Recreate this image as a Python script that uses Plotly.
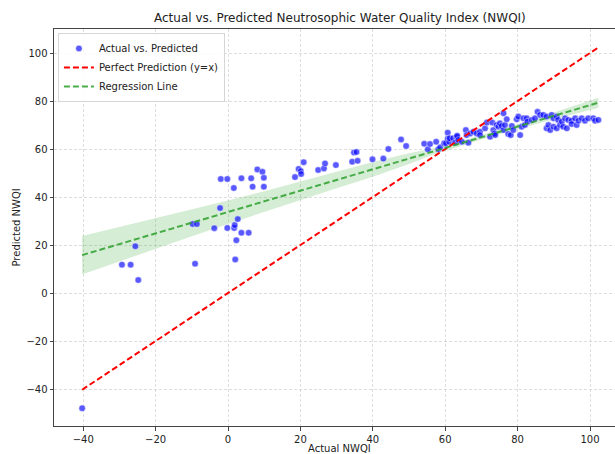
import plotly.graph_objects as go

# ---- data ----
actual = [
    -40.3, -29.3, -26.9, -25.6, -24.8, -9.75, -8.6, -9.1, -3.8, -2.2,
    -2.0, -0.2, -0.2, 1.6, 1.7, 1.85, 2.7, 2.3, 2.0, 3.7,
    3.7, 5.7, 6.4, 6.8, 8.1, 9.5, 9.9, 9.9, 18.5, 19.5,
    20.1, 20.2, 20.9, 24.9, 26.5, 26.8, 29.8, 34.3, 34.8, 35.5,
    35.8, 39.9, 42.9, 44.3, 47.8, 49.2, 54.2, 55.2, 55.8, 57.5,
    58.1, 58.6, 59.7, 60.2, 60.7, 60.7, 61.1, 61.2, 62.2, 62.7,
    63.2, 63.3, 63.6, 64.6, 65.7, 65.9, 66.4, 66.9, 67.8, 68.7,
    69.6, 69.6, 71.0, 71.5, 72.4, 73.0, 73.3, 73.6, 73.8, 74.2,
    74.7, 75.1, 75.6, 76.1, 76.1, 76.5, 77.0, 77.4, 78.1, 78.4,
    78.8, 79.75, 80.2, 80.7, 81.1, 81.6, 82.0, 82.5, 82.7, 83.9,
    84.8, 85.5, 86.2, 87.1, 88.0, 88.0, 88.5, 89.0, 89.4, 89.9,
    89.9, 90.8, 90.8, 91.2, 91.7, 92.2, 92.6, 93.1, 93.6, 94.0,
    94.9, 94.9, 95.9, 96.3, 96.8, 97.7, 98.6, 99.5, 100.9, 101.4,
    102.3,
]
predicted = [
    -48.0, 11.8, 11.8, 19.5, 5.4, 28.75, 28.75, 12.2, 27.0, 35.4,
    47.5, 47.5, 27.1, 43.75, 27.1, 28.3, 30.8, 22.0, 14.0, 47.8,
    25.1, 25.1, 47.8, 44.3, 51.5, 50.5, 48.0, 44.3, 48.3, 51.7,
    50.8, 49.6, 54.5, 51.25, 51.9, 54.0, 53.3, 54.7, 58.5, 58.75,
    55.1, 55.7, 56.0, 60.0, 64.0, 61.25, 62.2, 59.9, 62.1, 63.0,
    59.9, 60.7, 62.4, 62.4, 66.8, 64.3, 63.0, 64.5, 64.5, 62.6,
    65.1, 65.5, 63.75, 63.0, 67.9, 65.8, 62.6, 66.5, 67.2, 66.5,
    67.2, 65.8, 68.6, 71.0, 65.1, 71.0, 67.9, 66.5, 65.8, 70.0,
    69.3, 70.7, 69.6, 67.9, 74.9, 70.0, 72.4, 66.25, 65.8, 69.6,
    67.9, 72.4, 73.5, 65.8, 69.3, 72.8, 70.0, 72.8, 71.4, 72.1,
    72.8, 75.5, 74.2, 74.2, 73.5, 68.6, 70.0, 67.9, 74.2, 72.8,
    69.3, 73.5, 68.6, 72.1, 70.0, 71.4, 69.3, 72.8, 68.6, 72.1,
    71.8, 70.4, 72.8, 70.0, 71.8, 72.8, 71.8, 72.8, 72.8, 71.8,
    72.1,
]

# regression line (end points) and its confidence band
reg_x = [-40.3, 102.3]
reg_y = [15.8, 79.3]
band_x = [-40.3, -30, -20, -10, 0, 10, 20, 30, 40, 50, 56, 60, 70, 80, 90, 102.3]
band_lower = [7.75, 13.1, 18.4, 23.65, 28.8, 33.85, 38.8, 43.65, 48.4, 53.8,
              57.25, 59.4, 64.0, 68.3, 72.4, 77.2]
band_upper = [23.75, 27.5, 31.2, 34.85, 38.6, 42.45, 46.4, 50.45, 54.6, 58.2,
              60.05, 61.4, 65.8, 70.3, 75.2, 81.4]

x_ticks = [-40, -20, 0, 20, 40, 60, 80, 100]
y_ticks = [-40, -20, 0, 20, 40, 60, 80, 100]

title_text = "Actual vs. Predicted Neutrosophic Water Quality Index (NWQI)"
x_title = "Actual NWQI"
y_title = "Predicted NWQI"

FONT = "DejaVu Sans, Liberation Sans, sans-serif"

fig = go.Figure()

# confidence band
fig.add_trace(go.Scatter(
    x=band_x + band_x[::-1],
    y=band_upper + band_lower[::-1],
    fill="toself", fillcolor="rgba(44,160,44,0.2)",
    line=dict(width=0), mode="lines", hoverinfo="skip", showlegend=False,
))

# scatter points
fig.add_trace(go.Scatter(
    x=actual, y=predicted, mode="markers", name="Actual vs. Predicted",
    marker=dict(size=6.5, color="rgba(0,0,255,0.65)",
                line=dict(color="rgba(255,255,255,0.9)", width=0.5)),
))

# perfect prediction y = x
lo, hi = min(actual), max(actual)
fig.add_trace(go.Scatter(
    x=[lo, hi], y=[lo, hi], mode="lines", name="Perfect Prediction (y=x)",
    line=dict(color="#ff0000", width=2, dash="6px,3px"),
))

# regression line
fig.add_trace(go.Scatter(
    x=reg_x, y=reg_y, mode="lines", name="Regression Line",
    line=dict(color="rgba(44,160,44,0.85)", width=2, dash="6px,3px"),
))

axis_common = dict(
    showgrid=True, gridcolor="rgba(190,190,190,0.5)", griddash="3px,2px", gridwidth=0.8,
    zeroline=False, showline=True, linecolor="#444444", linewidth=1,
    ticks="outside", ticklen=3.5, tickcolor="#444444", tickwidth=1,
    tickfont=dict(family=FONT, size=10, color="#222222"),
)

fig.update_layout(
    width=615, height=454,
    margin=dict(l=54, r=0, t=29, b=28),
    plot_bgcolor="white", paper_bgcolor="white",
    font=dict(family=FONT, size=10, color="#222222"),
    xaxis=dict(range=[-48.07, 106.9], tickvals=x_ticks, mirror=True, **axis_common),
    yaxis=dict(range=[-55.4, 110.0], tickvals=y_ticks, mirror=False, **axis_common),
    showlegend=True,
    legend=dict(
        x=0.007, y=0.99, xanchor="left", yanchor="top",
        bgcolor="rgba(255,255,255,0.85)", bordercolor="#d6d6d6", borderwidth=1,
        font=dict(family=FONT, size=10, color="#222222"),
        itemwidth=30, tracegroupgap=0,
    ),
    annotations=[
        dict(text=title_text, xref="paper", yref="paper", x=0.509, y=1.028,
             xanchor="center", yanchor="middle", showarrow=False,
             font=dict(family=FONT, size=12, color="#222222")),
        dict(text=x_title, xref="paper", yref="paper", x=0.509, y=-0.0575,
             xanchor="center", yanchor="middle", showarrow=False,
             font=dict(family=FONT, size=10, color="#222222")),
        dict(text=y_title, xref="paper", yref="paper", x=-0.0677, y=0.5,
             xanchor="center", yanchor="middle", showarrow=False, textangle=-90,
             font=dict(family=FONT, size=10, color="#222222")),
    ],
)

fig.write_html("out.html")
